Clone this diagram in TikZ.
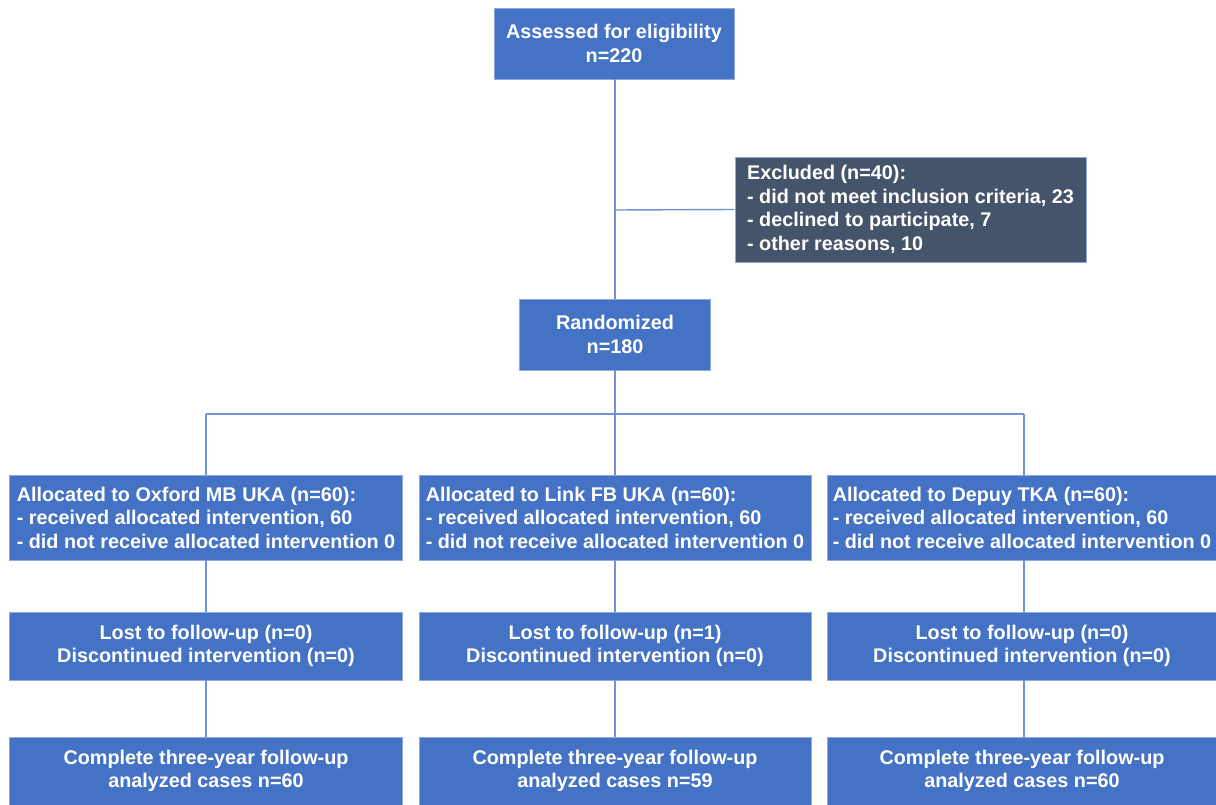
\documentclass[tikz,border=0pt]{standalone}
\usepackage{fontspec}
\setmainfont{Liberation Sans}
\definecolor{boxblue}{HTML}{4472C4}
\definecolor{boxslate}{HTML}{44546A}
\definecolor{edgeblue}{HTML}{8EA9DB}
\definecolor{lineblue}{HTML}{6F93D6}
\begin{document}
\begin{tikzpicture}[x=1pt,y=-1pt,
  box/.style={fill=boxblue,draw=edgeblue,line width=0.8pt,text=white,
    font=\fontsize{19.8}{23.5}\selectfont\bfseries,inner sep=0pt,
    align=center},
  leftbox/.style={box,align=left},
  conn/.style={draw=lineblue,line width=1.4pt}]
\useasboundingbox (0,0) rectangle (1216,805);
% top
\node[box,minimum width=240pt,minimum height=71pt] (assess) at (614,43.5)
  {Assessed for eligibility\\n=220};
\node[leftbox,fill=boxslate,minimum width=351pt,minimum height=105pt] (excl) at (910.5,209.5)
  {Excluded (n=40):\\- did not meet inclusion criteria, 23\\- declined to participate, 7\\- other reasons, 10};
\node[box,minimum width=191pt,minimum height=71pt] (rand) at (615,334.5)
  {Randomized\\ n=180};
% allocated
\node[leftbox,minimum width=393pt,minimum height=85pt] (al1) at (206,517.5)
  {Allocated to Oxford MB UKA (n=60):\\- received allocated intervention, 60\\- did not receive allocated intervention 0};
\node[leftbox,minimum width=392pt,minimum height=85pt] (al2) at (615,517.5)
  {Allocated to Link FB UKA (n=60):\\- received allocated intervention, 60\\- did not receive allocated intervention 0};
\node[leftbox,minimum width=390pt,minimum height=85pt] (al3) at (1022,517.5)
  {Allocated to Depuy TKA (n=60):\\- received allocated intervention, 60\\- did not receive allocated intervention 0};
% lost
\node[box,minimum width=393pt,minimum height=68pt] (lo1) at (206,646)
  {Lost to follow-up (n=0)\\Discontinued intervention (n=0)};
\node[box,minimum width=392pt,minimum height=68pt] (lo2) at (615,646)
  {Lost to follow-up (n=1)\\Discontinued intervention (n=0)};
\node[box,minimum width=390pt,minimum height=68pt] (lo3) at (1022,646)
  {Lost to follow-up (n=0)\\Discontinued intervention (n=0)};
% complete
\node[box,minimum width=393pt,minimum height=68pt] (co1) at (206,771)
  {Complete three-year follow-up\\analyzed cases n=60};
\node[box,minimum width=392pt,minimum height=68pt] (co2) at (615,771)
  {Complete three-year follow-up\\analyzed cases n=59};
\node[box,minimum width=390pt,minimum height=68pt] (co3) at (1022,771)
  {Complete three-year follow-up\\analyzed cases n=60};
% junctions
\coordinate (jx) at (615,210);
\coordinate (jl) at (206,414);
\coordinate (jm) at (615,414);
\coordinate (jr) at (1024,414);
% connectors
\draw[conn] (assess.south -| jx) -- (rand.north -| jx);
\draw[conn] (jx) -- (excl.west);
\draw[conn] (rand.south -| jm) -- (jm);
\draw[conn] (jl) -- (jr);
\draw[conn] (jl) -- (al1.north -| jl);
\draw[conn] (jm) -- (al2.north -| jm);
\draw[conn] (jr) -- (al3.north -| jr);
\draw[conn] (al1.south -| jl) -- (lo1.north -| jl);
\draw[conn] (al2.south -| jm) -- (lo2.north -| jm);
\draw[conn] (al3.south -| jr) -- (lo3.north -| jr);
\draw[conn] (lo1.south -| jl) -- (co1.north -| jl);
\draw[conn] (lo2.south -| jm) -- (co2.north -| jm);
\draw[conn] (lo3.south -| jr) -- (co3.north -| jr);
\end{tikzpicture}
\end{document}
